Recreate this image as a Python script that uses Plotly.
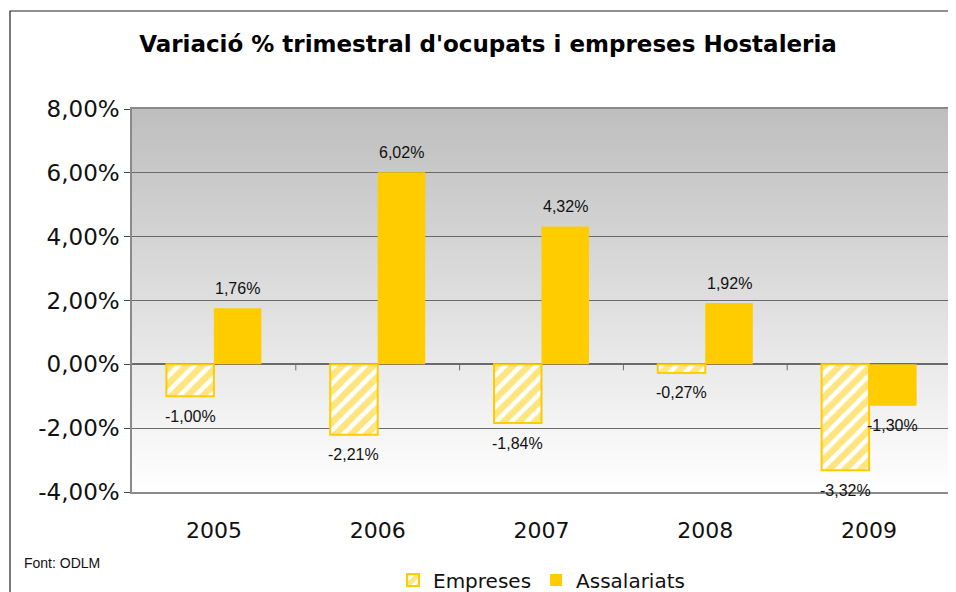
import plotly.graph_objects as go

# the page body adds an 8px margin, so layout is built in screen pixels minus that
OFF = 8
W, H = 956 - OFF, 592 - OFF
L, R, T, B = 132 - OFF, 5, 109 - OFF, 100

years = ["2005", "2006", "2007", "2008", "2009"]
empreses = [-1.00, -2.21, -1.84, -0.27, -3.32]
assalariats = [1.76, 6.02, 4.32, 1.92, -1.30]
y_ticks = [-4, -2, 0, 2, 4, 6, 8]
y_tick_labels = ["-4,00%", "-2,00%", "0,00%", "2,00%", "4,00%", "6,00%", "8,00%"]

YELLOW = "#FFCC00"
GRID = "#6b6b6b"
BARGAP = 0.42

plot_w = W - L - R
cat_w = plot_w / len(years)
bar_shift = (1 - BARGAP) * cat_w / 4


def px_to_paper_x(px):
    # px is a screen pixel
    return (px - OFF - L) / plot_w


def px_to_paper_y(py):
    return (H - B - (py - OFF)) / (H - T - B)


def fmt(v):
    return f"{v:.2f}".replace(".", ",") + "%"


fig = go.Figure()

fig.add_trace(go.Bar(
    name="Empreses",
    x=years,
    y=empreses,
    marker=dict(
        color="white",
        line=dict(color=YELLOW, width=2),
        pattern=dict(shape="/", fgcolor=YELLOW, bgcolor="white", size=11, solidity=0.6),
    ),
))
fig.add_trace(go.Bar(
    name="Assalariats",
    x=years,
    y=assalariats,
    marker=dict(color=YELLOW, line=dict(width=0)),
))

# value labels, a little away from the bar ends (x given as category index)
annotations = []
for series, shift in ((empreses, -bar_shift), (assalariats, bar_shift)):
    for i, v in enumerate(series):
        annotations.append(dict(
            x=i, y=v, xref="x", yref="y",
            text=fmt(v), showarrow=False,
            xshift=shift, yshift=20 if v >= 0 else -20,
            xanchor="center", yanchor="middle",
            font=dict(family="Liberation Sans", size=16, color="#111"),
        ))

annotations.append(dict(
    text="Font: ODLM",
    xref="paper", yref="paper",
    x=px_to_paper_x(22), xanchor="left",
    y=px_to_paper_y(563), yanchor="middle",
    showarrow=False,
    font=dict(family="Liberation Sans", size=14, color="#111"),
))

# grey-to-white gradient background made of thin, slightly overlapping bands
n_bands = 120
top_rgb, bot_rgb = 190, 255
shapes = []
for i in range(n_bands):
    f = (i + 0.5) / n_bands
    c = round(bot_rgb + (top_rgb - bot_rgb) * f)
    shapes.append(dict(
        type="rect", xref="paper", yref="paper", layer="below",
        x0=0, x1=1, y0=i / n_bands, y1=min(1, (i + 1) / n_bands + 0.004),
        fillcolor=f"rgb({c},{c},{c})", line=dict(width=0),
    ))

# small category-boundary ticks on the zero line
for i in range(len(years) - 1):
    shapes.append(dict(
        type="line", xref="x", yref="y", layer="above",
        x0=i + 0.5, x1=i + 0.5,
        ysizemode="pixel", yanchor=0, y0=0, y1=-6,
        line=dict(color=GRID, width=1),
    ))

# outer chart border
shapes.append(dict(
    type="rect", xref="paper", yref="paper", layer="above",
    x0=px_to_paper_x(10), x1=px_to_paper_x(975),
    y0=px_to_paper_y(620), y1=px_to_paper_y(11),
    line=dict(color="#222", width=1.2), fillcolor="rgba(0,0,0,0)",
))

fig.update_layout(
    width=W, height=H,
    margin=dict(l=L, r=R, t=T, b=B, autoexpand=False),
    paper_bgcolor="white",
    plot_bgcolor="white",
    barmode="group",
    bargap=BARGAP,
    bargroupgap=0,
    shapes=shapes,
    annotations=annotations,
    title=dict(
        text="<b>Variació % trimestral d'ocupats i empreses Hostaleria</b>",
        x=(488 - OFF) / W, xanchor="center",
        y=1 - (44 - OFF) / H, yanchor="middle",
        font=dict(family="DejaVu Sans", size=23, color="#000"),
    ),
    xaxis=dict(
        type="category",
        categoryorder="array",
        categoryarray=years,
        range=[-0.5, len(years) - 0.5],
        showgrid=False,
        zeroline=False,
        showline=True,
        linecolor="#8a8a8a",
        linewidth=1.5,
        mirror=True,
        ticks="",
        ticklabelstandoff=18,
        tickfont=dict(family="DejaVu Sans", size=22, color="#111"),
    ),
    yaxis=dict(
        range=[-4, 8],
        tickvals=y_ticks,
        ticktext=y_tick_labels,
        showgrid=True,
        gridcolor=GRID,
        gridwidth=1,
        zeroline=True,
        zerolinecolor=GRID,
        zerolinewidth=1.5,
        showline=True,
        linecolor="#8a8a8a",
        linewidth=1.5,
        mirror=True,
        ticks="outside",
        ticklen=6,
        tickcolor="#444",
        tickfont=dict(family="DejaVu Sans", size=23, color="#111"),
    ),
    legend=dict(
        orientation="h",
        x=0.5, xanchor="center",
        y=px_to_paper_y(580), yanchor="middle",
        font=dict(family="DejaVu Sans", size=20, color="#111"),
        bgcolor="rgba(0,0,0,0)",
        itemwidth=30,
        tracegroupgap=0,
    ),
)

fig.write_html("out.html")
